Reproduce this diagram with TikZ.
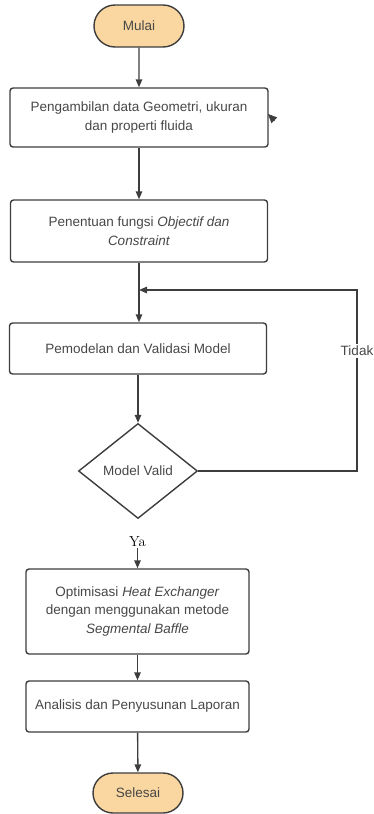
\documentclass[tikz,border=0pt]{standalone}
\usepackage{fontspec}
\setsansfont{Liberation Sans}
\usetikzlibrary{shapes.geometric,shapes.misc,arrows.meta}
\definecolor{linec}{HTML}{3D3D3D}
\definecolor{textc}{HTML}{474747}
\definecolor{termfill}{HTML}{FAD7A0}
\tikzset{
  base/.style={draw=linec, line width=1.4pt, text=textc, font=\sffamily\fontsize{13.5}{18.5}\selectfont, align=center, inner sep=0pt},
  procbox/.style={base, rectangle, rounded corners=3pt},
  termbox/.style={base, rounded rectangle, fill=termfill},
  decbox/.style={base, diamond},
  arr/.style={draw=linec, line width=1.4pt, -{Triangle[length=8pt,width=6.5pt]}},
}
\begin{document}
\begin{tikzpicture}[x=1pt,y=-1pt]
\useasboundingbox (0,0) rectangle (374,814);
\node[termbox, minimum width=90pt, minimum height=42pt] (mulai) at (139,26) {Mulai};
\node[procbox, minimum width=258pt, minimum height=59pt] (b1) at (139,117.5) {Pengambilan data Geometri, ukuran\\dan properti fluida};
\node[procbox, minimum width=257pt, minimum height=62pt] (b2) at (139,231) {Penentuan fungsi \textit{Objectif dan}\\\textit{Constraint}};
\node[procbox, minimum width=257pt, minimum height=51pt] (b3) at (138,348.5) {Pemodelan dan Validasi Model};
\node[decbox, minimum width=119pt, minimum height=95pt] (dia) at (138,471) {Model Valid};
\node[font=\fontsize{14.5}{16}\selectfont, inner sep=1pt] (ya) at (137.5,542) {Ya};
\node[procbox, minimum width=223pt, minimum height=85pt] (b4) at (137.5,611.5) {Optimisasi \textit{Heat Exchanger}\\dengan menggunakan metode\\\textit{Segmental Baffle}};
\node[procbox, minimum width=223pt, minimum height=51pt] (b5) at (137.5,706.5) {Analisis dan Penyusunan Laporan};
\node[termbox, minimum width=90pt, minimum height=40pt] (sel) at (138,793) {Selesai};
\coordinate (c1) at (357,471);
\coordinate (c2) at (357,290);
\coordinate (j) at (139,290);
\coordinate (t1) at (275,121);
\coordinate (t2) at (268,114);

\draw[arr] (mulai) -- (b1);
\draw[arr] (b1) -- (b2);
\draw[arr] (b2.south) -- (b3.north -| b2.south);
\draw[arr] (b3) -- (dia);
\draw[arr] (ya.south) -- (b4.north -| ya.south);
\draw[arr] (b4) -- (b5);
\draw[arr] (b5) -- (sel);
\draw[arr] (dia.east) -- (c1) -- (c2) -- (j);
\node[base, draw=none, fill=white, inner sep=2pt] (tidak) at (357,351) {Tidak};
\draw[draw=linec, line width=0.6pt, -{Triangle[length=9pt,width=8pt]}] (t1) -- (t2);
\end{tikzpicture}
\end{document}
